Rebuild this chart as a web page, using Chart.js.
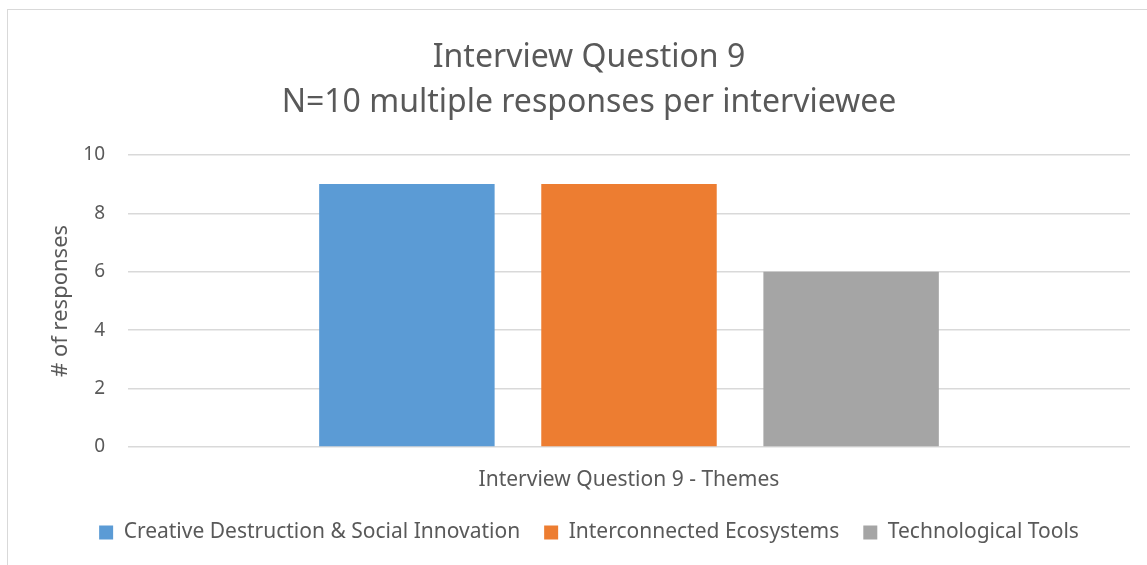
<!DOCTYPE html>
<html>
<head>
<meta charset="utf-8">
<script src="https://cdn.jsdelivr.net/npm/chart.js@4"></script>
<style>
  html, body { margin: 0; padding: 0; overflow: hidden; background: #fff; }
  #frame { position: absolute; left: 7px; top: 9px; width: 1200px; height: 600px; border: 1px solid #d9d9d9; }
  #myChart { position: absolute; left: 0; top: 0; }
</style>
</head>
<body>
<div id="frame"></div>
<canvas id="myChart" width="1147" height="565"></canvas>
<script>
var categorias = ['Interview Question 9 - Themes'];
var temas = ['Creative Destruction & Social Innovation', 'Interconnected Ecosystems', 'Technological Tools'];
var respuestas = [9, 9, 6];
var colores = ['rgb(91, 155, 213)', 'rgb(237, 125, 49)', 'rgb(165, 165, 165)'];
var titulo = ['Interview Question 9', 'N=10 multiple responses per interviewee'];

var fuente = "'Noto Sans', sans-serif";
var gris = '#595959';

const datasets = temas.map((t, i) => ({
    label: t,
    data: [respuestas[i]],
    backgroundColor: colores[i],
    borderColor: colores[i],
    categoryPercentage: 0.665,
    barPercentage: 0.79,
}));

const config = {
    type: 'bar',
    data: { labels: categorias, datasets: datasets },
    options: {
        responsive: false,
        animation: false,
        layout: { padding: { left: 48, right: 17, top: 25, bottom: 12 } },
        plugins: {
            title: {
                display: true,
                text: titulo,
                color: gris,
                font: { family: fuente, size: 32, weight: 'normal', lineHeight: 1.42 },
                padding: { top: 10, bottom: 29 }
            },
            legend: {
                position: 'bottom',
                labels: {
                    color: gris,
                    font: { family: fuente, size: 21 },
                    boxWidth: 14,
                    boxHeight: 14,
                    padding: 24
                }
            },
            tooltip: { enabled: false }
        },
        scales: {
            x: {
                afterFit: (eje) => { eje.height = 51; },
                grid: { display: false },
                border: { display: false },
                ticks: { color: gris, font: { family: fuente, size: 21 }, padding: 12 }
            },
            y: {
                min: 0,
                max: 10,
                afterFit: (eje) => { eje.width = 80; },
                ticks: { stepSize: 2, color: gris, font: { family: fuente, size: 19 }, padding: 23 },
                grid: { color: '#d9d9d9', lineWidth: 1.5, drawTicks: false },
                border: { display: false },
                title: {
                    display: true,
                    text: '# of responses',
                    color: gris,
                    font: { family: fuente, size: 22 },
                    padding: { top: 0, bottom: 0 }
                }
            }
        }
    }
};

const myChart = new Chart(document.getElementById('myChart'), config);
</script>
</body>
</html>
